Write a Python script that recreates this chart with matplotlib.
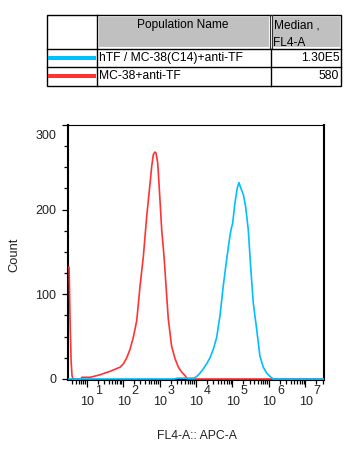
import matplotlib
matplotlib.use('Agg')
import matplotlib.pyplot as plt
from matplotlib.patches import Rectangle
from matplotlib.transforms import ScaledTranslation
from matplotlib.ticker import LogLocator, NullFormatter, MultipleLocator
import numpy as np

plt.rcParams['font.family'] = ['Liberation Sans', 'DejaVu Sans']

# histogram values (log10 of FL4-A, count)
red_log = [0.49, 0.52, 0.548, 0.575, 0.60, 0.63, 0.85, 0.87, 1.10, 1.37, 1.64, 1.92,
           2.01, 2.10, 2.19, 2.28, 2.375, 2.466, 2.557, 2.648, 2.74, 2.785, 2.83,
           2.87, 2.904, 2.95, 2.995, 3.06, 3.123, 3.178, 3.24, 3.33, 3.425, 3.516,
           3.61, 3.70, 3.76, 7.51]
red_cnt = [132, 132, 67, 21, 4, 0, 0, 2, 2, 5, 9, 14,
           18, 25, 35, 49, 69, 110, 145, 192, 231, 251, 265,
           268, 267, 255, 224, 176, 145, 110, 71, 39, 24, 14,
           8, 4, 0, 0]

blue_log = [0.49, 3.40, 3.50, 3.80, 3.95, 4.02, 4.11, 4.20, 4.293, 4.384, 4.474, 4.567,
            4.658, 4.748, 4.84, 4.93, 4.97, 5.005, 5.068, 5.13, 5.178, 5.233,
            5.297, 5.36, 5.434, 5.498, 5.57, 5.663, 5.753, 5.844, 5.937, 6.03,
            6.12, 7.51]
blue_cnt = [0, 0, 1, 1, 1, 3, 7, 12, 18, 25, 35, 49,
            75, 110, 141, 169, 178, 184, 208, 225, 232, 225,
            218, 204, 176, 133, 90, 59, 27, 14, 7, 3,
            0, 0]

decades = [1, 2, 3, 4, 5, 6, 7]
y_ticks = [0, 100, 200, 300]

pop_names = ['hTF / MC-38(C14)+anti-TF', 'MC-38+anti-TF']
medians = ['1.30E5', '580']
pop_colors = ['#00bfff', '#ff3333']

fig = plt.figure(figsize=(3.6, 4.59), dpi=100)
px = 1 / 100  # inches per pixel

# ---- histogram axes
ax = fig.add_axes([68 / 360, 79 / 459, 256 / 360, 255 / 459])
ax.plot(10 ** np.array(red_log), red_cnt, color=pop_colors[1], lw=1.2, zorder=3)
ax.plot(10 ** np.array(blue_log), blue_cnt, color=pop_colors[0], lw=1.2, zorder=3)
ax.set_xscale('log')
ax.set_xlim(10 ** 0.49, 10 ** 7.51)
ax.set_ylim(-1.2, 300)

for s in ['left', 'bottom', 'right']:
    ax.spines[s].set_linewidth(1.5)
ax.spines['top'].set_linewidth(0.8)

ax.set_yticks(y_ticks)
ax.yaxis.set_minor_locator(MultipleLocator(25))
ax.tick_params(axis='y', which='major', length=4.5, width=0.9, labelsize=9,
               labelcolor='#222222', pad=4)
ax.tick_params(axis='y', which='minor', length=2.6, width=0.9)
ax.get_yticklabels()[-1].set_va('top')
lab = ax.get_yticklabels()[-1]
lab.set_transform(lab.get_transform() + ScaledTranslation(0, -5 * px, fig.dpi_scale_trans))

ax.xaxis.set_major_locator(LogLocator(base=10, numticks=20))
ax.xaxis.set_minor_locator(LogLocator(base=10, subs=np.arange(2, 10), numticks=20))
ax.xaxis.set_major_formatter(NullFormatter())
ax.xaxis.set_minor_formatter(NullFormatter())
ax.tick_params(axis='x', which='major', length=5, width=0.9)
ax.tick_params(axis='x', which='minor', length=2.8, width=0.9)

# x tick labels drawn as "10" with a raised exponent
trans = ax.get_xaxis_transform()
for d in decades:
    t1 = trans + ScaledTranslation(0.5 * px, -22 * px, fig.dpi_scale_trans)
    ax.text(10 ** d, 0, '10', transform=t1, ha='center', va='center',
            fontsize=9, color='#222222', clip_on=False)
    t2 = trans + ScaledTranslation(11.5 * px, -11.5 * px, fig.dpi_scale_trans)
    ax.text(10 ** d, 0, str(d), transform=t2, ha='center', va='center',
            fontsize=9, color='#222222', clip_on=False)

fig.text(14 / 360, 1 - 255 / 459, 'Count', rotation=90, ha='center', va='center',
         fontsize=9.3, color='#222222')
fig.text(197 / 360, 1 - 436 / 459, 'FL4-A:: APC-A', ha='center', va='center',
         fontsize=8.8, color='#222222')

# ---- population table (pixel coordinates)
tb = fig.add_axes([0, 0, 1, 1], zorder=-1)
tb.set_xlim(0, 360)
tb.set_ylim(459, 0)
tb.axis('off')

x0, x1, x2, x3 = 47.3, 96.5, 270.7, 341
y0, y1, y2, y3 = 14.7, 48.8, 67.3, 86

for (a, b) in [(98.2, 269.0), (272.3, 339.5)]:
    tb.add_patch(Rectangle((a, y0 + 1.5), b - a, y1 - y0 - 3, facecolor='#c0c0c0',
                           edgecolor='white', lw=0.8))
tb.plot([269.6, 269.6], [y0, y1], color='#333333', lw=0.8)
tb.plot([271.7, 271.7], [y0, y1], color='#333333', lw=0.8)
tb.add_patch(Rectangle((x0, y0), x3 - x0, y3 - y0, facecolor='none',
                       edgecolor='black', lw=1.0))
tb.plot([x1, x1], [y0, y3], color='black', lw=1.0)
tb.plot([x2, x2], [y1, y3], color='black', lw=1.0)
tb.plot([x0, x3], [y1, y1], color='black', lw=1.0)
tb.plot([x0, x3], [y2, y2], color='black', lw=1.0)

tb.text(182.5, 25, 'Population Name', ha='center', va='center', fontsize=8.6)
tb.text(273.5, 25, 'Median ,', ha='left', va='center', fontsize=8.6)
tb.text(273.5, 43, 'FL4-A', ha='left', va='center', fontsize=8.6)

row_y = [58.3, 76.2]
for name, med, col, yy in zip(pop_names, medians, pop_colors, row_y):
    tb.plot([x0 + 0.5, x1 - 0.5], [yy, yy], color=col, lw=2.9, solid_capstyle='butt')
    tb.text(99.3, yy, name, ha='left', va='center', fontsize=8.7)
    tb.text(339.3, yy, med, ha='right', va='center', fontsize=8.7)

fig.savefig('out.png', dpi=100)
